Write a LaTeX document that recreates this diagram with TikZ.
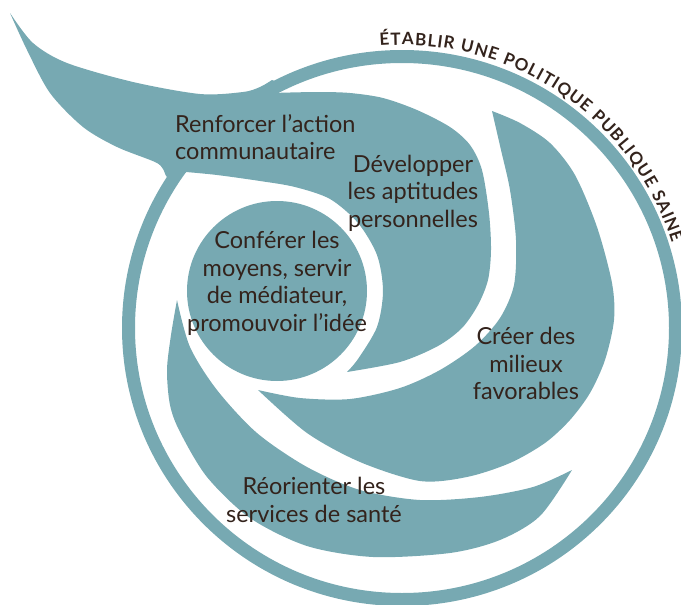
\documentclass[tikz,border=0pt]{standalone}
\usepackage{fontspec}
\setmainfont{Lato}
\usetikzlibrary{decorations.text}
\definecolor{ottawa}{HTML}{77A9B2}
\definecolor{ink}{HTML}{33231C}
\tikzstyle{blob} = [fill=ottawa, draw=none]
\tikzstyle{areatext} = [align=center, text=ink, font=\fontsize{23.5}{27.5}\selectfont, inner sep=0pt]
\newcommand{\ringfont}{\fontsize{17}{17}\selectfont\bfseries}

\begin{document}
\begin{tikzpicture}[x=1pt, y=-1pt]
	\useasboundingbox (0,0) rectangle (681,605);
	\fill[blob, even odd rule] (402,328) ellipse [x radius=280, y radius=278] (402,328) ellipse [x radius=267, y radius=265];
	\fill[blob] plot[smooth] coordinates {(10,13) (33,43) (67,63) (133,82) (200,94) (243,92) (260,87) (272,80)}
		-- (282,84) -- (272,93)
		-- plot[smooth] coordinates {(272,93) (317,92) (350,93) (383,98) (417,110) (450,127) (470,145) (482,170) (489,213) (491,250) (488,280) (478,305) (462,328) (438,346) (400,362) (347,372)}
		-- plot[smooth] coordinates {(347,372) (358,359) (377,327) (383,291) (377,255) (358,223) (330,199) (295,187) (260,181) (217,175) (186,172)}
		-- (178,180)
		-- plot[smooth] coordinates {(178,180) (167,177) (163,169) (155,162) (117,147) (83,127) (50,93) (27,50) (10,13)}
		-- cycle;
	\fill[blob] (277,291) circle [radius=90];
	\fill[blob] plot[smooth] coordinates {(492,111) (520,123) (550,143) (575,175) (597,227) (612,283) (614,320) (605,360) (590,393) (570,420) (545,443) (510,463) (467,477) (420,481) (360,462) (307,433) (258,390)}
		-- plot[smooth] coordinates {(258,390) (300,398) (350,399) (400,388) (440,370) (475,346) (500,318) (514,285) (516,240) (510,190) (501,150) (492,111)}
		-- cycle;
	\fill[blob] plot[smooth] coordinates {(177,300) (171,335) (167,370) (170,405) (180,432) (207,477) (250,518) (307,546) (373,557) (450,553) (500,540) (540,516) (572,470)}
		-- plot[smooth] coordinates {(572,470) (533,487) (480,497) (420,500) (360,490) (307,467) (257,433) (217,390) (190,347) (177,300)}
		-- cycle;
	\path[decorate, decoration={text along path, text={|\ringfont|ÉTABLIR UNE POLITIQUE PUBLIQUE SAINE}, text color=ink, text align={fit to path}}]
		(402,328) ++(-94.5:283) arc [start angle=-94.5, end angle=-17.5, radius=283];
	\node (renforcer) at (175, 137) [areatext, anchor=west, align=left] {Renforcer l’action\\communautaire};
	\node (developper) at (413, 193) [areatext] {Développer\\les aptitudes\\personnelles};
	\node (conferer) at (277, 283.5) [areatext] {Conférer les\\moyens, servir\\de médiateur,\\promouvoir l’idée};
	\node (creer) at (526, 363.5) [areatext] {Créer des\\milieux\\favorables};
	\node (reorienter) at (314, 500) [areatext] {Réorienter les\\services de santé};
\end{tikzpicture}
\end{document}
